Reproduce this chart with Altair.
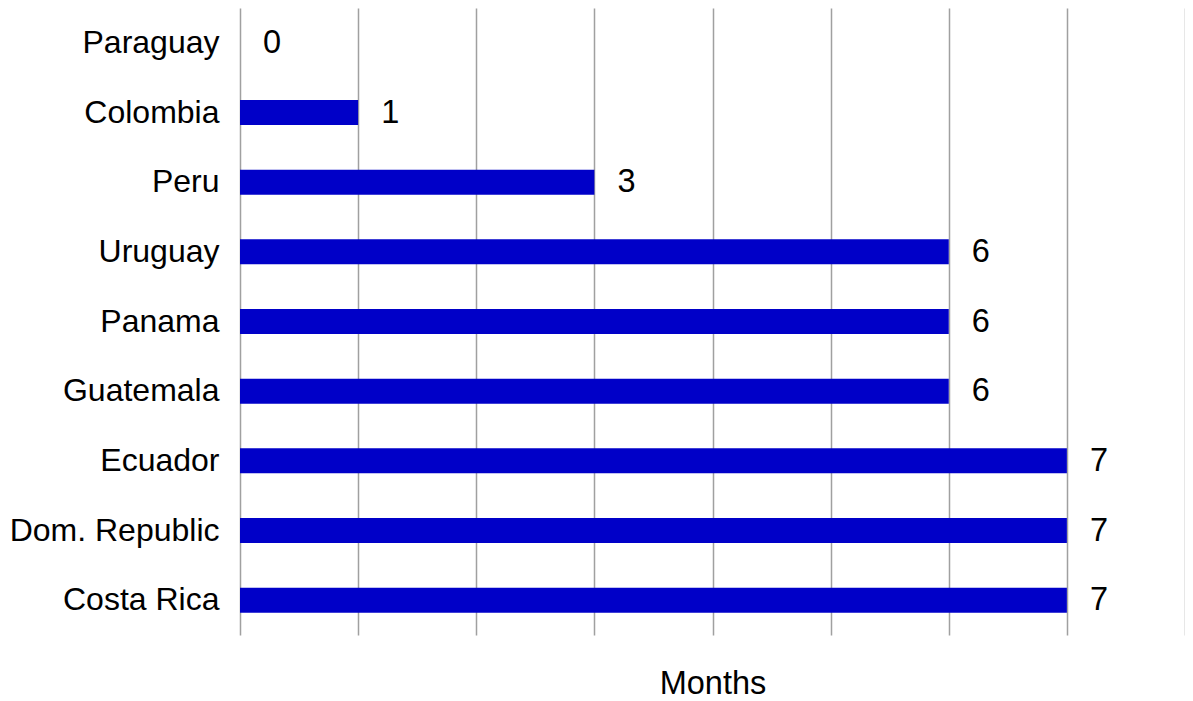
import altair as alt
import pandas as pd

countries = ["Paraguay", "Colombia", "Peru", "Uruguay", "Panama", "Guatemala",
             "Ecuador", "Dom. Republic", "Costa Rica"]
months = [0, 1, 3, 6, 6, 6, 7, 7, 7]

df = pd.DataFrame({"country": countries, "months": months})

FONT = "Liberation Sans"
FS = 32.5

y_enc = alt.Y("country:N", sort=countries, title=None,
              axis=alt.Axis(domain=False, ticks=False, labelFontSize=32,
                            labelFont=FONT, labelColor="black", labelPadding=21,
                            labelLimit=400, grid=False))
x_scale = alt.Scale(domain=[0, 8], nice=False, zero=True)

bars = alt.Chart(df).mark_bar(color="#0000C8", size=25).encode(
    x=alt.X("months:Q", scale=x_scale, title="Months",
            axis=alt.Axis(values=list(range(9)), labels=False, ticks=False,
                          domain=False, grid=True, gridColor="#a0a0a0",
                          gridWidth=1.5, titleFont=FONT, titleFontSize=FS,
                          titleFontWeight="normal", titleColor="black",
                          titlePadding=32)),
    y=y_enc,
)

texts = alt.Chart(df).mark_text(align="left", baseline="middle", dx=23,
                                font=FONT, fontSize=FS, color="black").encode(
    x=alt.X("months:Q", scale=x_scale),
    y=alt.Y("country:N", sort=countries),
    text=alt.Text("months:Q"),
)

chart = (bars + texts).properties(
    width=945, height=627,
    background="white",
    autosize=alt.AutoSizeParams(type="none"),
    padding={"left": 232, "top": 0, "right": 0, "bottom": 70},
).configure_view(stroke=None)

chart.save("out.html", embed_options={"renderer": "svg", "actions": False})
